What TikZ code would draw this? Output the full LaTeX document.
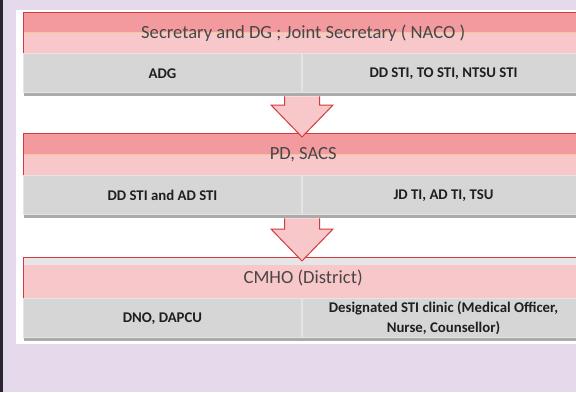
\documentclass[tikz,border=0pt]{standalone}
\usepackage{fontspec}
\setmainfont{Carlito}
\usepackage{tikz}
\usetikzlibrary{positioning,calc}

\definecolor{lavbg}{HTML}{E4DAEC}
\definecolor{darkstrip}{HTML}{2A2630}
\definecolor{hdrdark}{HTML}{F39A9E}
\definecolor{hdrlight}{HTML}{F8C7CA}
\definecolor{hdrline}{HTML}{F8C49C}
\definecolor{hdrgray}{HTML}{E6E6E6}
\definecolor{redline}{HTML}{D23A3C}
\definecolor{cellgray}{HTML}{D6D6D6}
\definecolor{celledge}{HTML}{E4E4E4}
\definecolor{cellshadow}{HTML}{ABABAB}

\begin{document}
\begin{tikzpicture}[x=1pt,y=-1pt,
    hdr/.style={minimum width=560pt, inner sep=0pt, fill=hdrlight, text=black!72,
        font=\fontsize{18.6}{22}\selectfont},
    hdrsplit/.style={path picture={
        \fill[hdrdark] (path picture bounding box.north west) rectangle (path picture bounding box.east);
        \draw[hdrline, line width=1pt] (path picture bounding box.west) -- (path picture bounding box.east);}},
    hdrtop/.style={path picture={
        \fill[hdrgray] (path picture bounding box.north west) rectangle ($(path picture bounding box.north east)+(0,8)$);}},
    cell/.style={minimum height=39pt, inner sep=0pt, fill=cellgray, draw=celledge, line width=1pt,
        align=center, text=black!88, font=\bfseries\fontsize{14.8}{20}\selectfont},
    blockarrow/.style={fill=hdrlight, draw=redline, line width=1pt, line join=miter}]

    % Page
    \useasboundingbox (0,0) rectangle (576,392);
    \clip (0,0) rectangle (576,392);
    \fill[lavbg] (0,0) rectangle (576,392);
    \fill[darkstrip] (0,0) rectangle (3,392);
    \fill[white] (16,10) rectangle (576,344);

    % Level 1
    \node[hdr, hdrsplit, minimum height=41pt, anchor=north west] (hdA) at (23,12)
        {Secretary and DG ; Joint Secretary ( NACO )};
    \node[cell, minimum width=278pt, anchor=north west] (cellAl) at (hdA.south west) {ADG};
    \node[cell, minimum width=282pt, anchor=north west] (cellAr) at (cellAl.north east) {DD STI, TO STI, NTSU STI};

    % Level 2
    \node[hdr, hdrsplit, minimum height=42pt, anchor=north west] (hdB) at (23,133) {PD, SACS};
    \node[cell, minimum width=278pt, anchor=north west] (cellBl) at (hdB.south west) {DD STI and AD STI};
    \node[cell, minimum width=282pt, anchor=north west] (cellBr) at (cellBl.north east) {JD TI, AD TI, TSU};

    % Level 3
    \node[hdr, hdrtop, minimum height=41pt, anchor=north west] (hdC) at (23,257) {CMHO (District)};
    \node[cell, minimum width=278pt, anchor=north west] (cellCl) at (hdC.south west) {DNO, DAPCU};
    \node[cell, minimum width=282pt, anchor=north west] (cellCr) at (cellCl.north east)
        {Designated STI clinic (Medical Officer,\\ Nurse, Counsellor)};

    % Red edges and shadows
    \foreach \h/\l/\r in {hdA/cellAl/cellAr, hdB/cellBl/cellBr, hdC/cellCl/cellCr} {
        \draw[redline, line width=1pt] (\h.south west) -- (\h.north west) -- (\h.north east) -- (\h.south east);
        \fill[cellshadow] ($(\l.south west)+(1,0)$) rectangle ($(\r.south east)+(0,3)$);
    }

    % Arrows between levels
    \foreach \up/\low in {cellAl/hdB, cellBl/hdC} {
        \coordinate (tip) at ($(\up.south east |- \low.north)+(0,4)$);
        \coordinate (top) at ($(\up.south east)+(0,3)$);
        \draw[blockarrow] ($(top)+(-17.5,0)$) -- ($(tip)+(-17.5,-32)$) -- ($(tip)+(-31,-32)$)
            -- (tip) -- ($(tip)+(31,-32)$) -- ($(tip)+(17.5,-32)$) -- ($(top)+(17.5,0)$);
    }
\end{tikzpicture}
\end{document}
